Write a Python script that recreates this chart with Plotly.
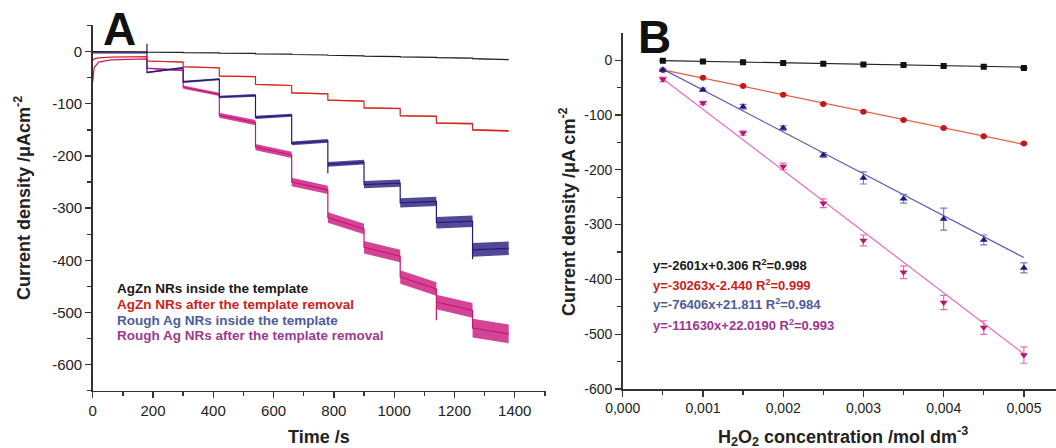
import plotly.graph_objects as go

# ---------------- Panel A : chronoamperometry ----------------
INIT_T = [0, 5, 20, 60, 180]
BLACK_INIT = [0, 0, -0.2, -0.4, -0.7]
RED_INIT = [-17, -14, -12, -10.5, -9.6]
BLUE_INIT = [-2.5, -2.5, -2.5, -2.5, -2.5]
MAG_INIT = [-58, -30, -20, -16, -14]

STEP_T = [180, 300, 420, 540, 660, 780, 900, 1020, 1140, 1260, 1380]

BLACK_START = [-1, -2, -3, -4.5, -5.5, -7, -8.5, -10, -11.5, -13.5]
BLACK_END = [-1.5, -2.5, -3.5, -5, -6.5, -8, -9.5, -11, -12.5, -15.5]
BLACK_NOISE = [0, 0, 0, 0, 0, 0, 0, 0, 0.5, 0.7]
BLACK_SPIKE = [None, None, None, None, None, None, None, None, None, None]

RED_START = [-18, -29, -47, -63, -79, -93, -108, -123, -137, -150]
RED_END = [-20, -31, -48, -65, -81, -95, -109, -124, -138, -152]
RED_NOISE = [0.8, 0.8, 1, 1, 1.2, 1.2, 1.3, 1.3, 1.5, 1.5]
RED_SPIKE = [None, None, None, None, None, None, None, None, None, None]

BLUE_START = [-40, -58, -87, -126, -176, -216, -255, -290, -328, -380]
BLUE_END = [-31, -53, -84, -122, -171, -212, -252, -287, -325, -377]
BLUE_NOISE = [1.5, 2, 2.5, 3, 3.5, 4.5, 7, 9, 11, 13]
BLUE_SPIKE = [15, None, None, None, None, -233, None, None, None, -398]

MAG_START = [-32, -68, -122, -183, -250, -318, -375, -432, -480, -530]
MAG_END = [-36, -82, -136, -198, -265, -340, -392, -455, -496, -541]
MAG_NOISE = [1.5, 3, 5, 6, 8, 10, 12, 13, 14, 18]
MAG_SPIKE = [None, None, None, None, None, None, None, None, -515, None]

A_X_TICKS = [0, 200, 400, 600, 800, 1000, 1200, 1400]
A_Y_TICKS = [0, -100, -200, -300, -400, -500, -600]
A_Y_TEXT = ["0", "-100", "-200", "-300", "-400", "-500", "-600"]

LEGEND_A = ["AgZn NRs inside the template",
            "AgZn NRs after the template removal",
            "Rough Ag NRs inside the template",
            "Rough Ag NRs after the template removal"]

# ---------------- Panel B : calibration ----------------
CONC = [0.0005, 0.001, 0.0015, 0.002, 0.0025, 0.003, 0.0035, 0.004, 0.0045, 0.005]
B_BLACK = [-1, -2.5, -3.6, -5, -6.5, -8, -9, -10.5, -12, -14.5]
B_BLACK_ERR = [0.5, 0.5, 0.5, 0.5, 0.5, 0.5, 0.5, 0.5, 0.5, 1]
B_RED = [-18, -32, -47, -63, -80, -94, -109, -124, -139, -152]
B_RED_ERR = [1, 1, 1, 1, 1, 1, 1, 1, 1, 1.5]
B_BLUE = [-18, -54, -85, -124, -173, -215, -253, -290, -328, -379]
B_BLUE_ERR = [2, 3, 4.5, 4, 4.5, 11, 8, 20, 9, 9]
B_MAG = [-35, -78, -133, -194, -261, -329, -387, -442, -488, -538]
B_MAG_ERR = [4, 3, 4, 6, 8, 10, 11.5, 13, 12.5, 15]

FIT_SLOPE = [-2601, -30263, -76406, -111630]
FIT_INTERCEPT = [0.306, -2.440, 21.811, 22.0190]
FIT_X = [0.0005, 0.005]
EQUATIONS = ["y=-2601x+0.306 R<sup>2</sup>=0.998",
             "y=-30263x-2.440 R<sup>2</sup>=0.999",
             "y=-76406x+21.811 R<sup>2</sup>=0.984",
             "y=-111630x+22.0190 R<sup>2</sup>=0.993"]

B_X_TICKS = [0, 0.001, 0.002, 0.003, 0.004, 0.005]
B_X_TEXT = ["0,000", "0,001", "0,002", "0,003", "0,004", "0,005"]
B_Y_TICKS = [0, -100, -200, -300, -400, -500, -600]
B_Y_TEXT = ["0", "-100", "-200", "-300", "-400", "-500", "-600"]

# ---------------- styling ----------------
FONT = "Liberation Sans, Arial, Helvetica, sans-serif"
W, H = 1056, 448
TRACE_COL = ["#1e1e1e", "#d0281e", "#261b7c", "#c8157a"]
BAND_COL = ["rgba(30,30,30,0.75)", "rgba(208,40,30,0.75)", "rgba(38,27,124,0.8)", "rgba(200,21,122,0.8)"]
LEG_COL = ["#1a1a1a", "#cc1f1f", "#4f5b9e", "#9c3a8e"]
EQ_COL = ["#1a1a1a", "#c81e1e", "#4f5b9a", "#9a3591"]
B_MARK_COL = ["#111111", "#c4161c", "#1f1a7a", "#c0106e"]
B_LINE_COL = ["#222222", "#e2603c", "#5b5fb5", "#e46cc0"]
B_ERR_COL = ["#444444", "#d05050", "#7a78c0", "#e070b0"]
B_SYMBOL = ["square", "circle", "triangle-up", "triangle-down"]


def px_x(x):
    return x / W


def px_y(y):
    return 1 - y / H


def step_path(init_vals, starts, ends, spikes):
    xs = list(INIT_T)
    ys = list(init_vals)
    for i in range(len(starts)):
        t0, t1 = STEP_T[i], STEP_T[i + 1]
        if spikes[i] is not None:
            xs.append(t0)
            ys.append(spikes[i])
        xs += [t0, t1]
        ys += [starts[i], ends[i]]
    return xs, ys


def noise_band(starts, ends, noise):
    xs, ys = [], []
    for i in range(len(starts)):
        a = noise[i]
        if a <= 0:
            continue
        t0, t1 = STEP_T[i], STEP_T[i + 1]
        xs += [t0, t1, t1, t0, t0, None]
        ys += [starts[i] - a, ends[i] - a, ends[i] + a, starts[i] + a, starts[i] - a, None]
    return xs, ys


fig = go.Figure()

series_a = [
    (BLACK_INIT, BLACK_START, BLACK_END, BLACK_NOISE, BLACK_SPIKE),
    (RED_INIT, RED_START, RED_END, RED_NOISE, RED_SPIKE),
    (BLUE_INIT, BLUE_START, BLUE_END, BLUE_NOISE, BLUE_SPIKE),
    (MAG_INIT, MAG_START, MAG_END, MAG_NOISE, MAG_SPIKE),
]
for idx in [3, 2, 1, 0]:
    init_v, st, en, nz, sp = series_a[idx]
    bx, by = noise_band(st, en, nz)
    if bx:
        fig.add_trace(go.Scatter(x=bx, y=by, mode="lines", fill="toself",
                                 fillcolor=BAND_COL[idx], line=dict(width=0),
                                 hoverinfo="skip", showlegend=False,
                                 xaxis="x", yaxis="y"))
    lx, ly = step_path(init_v, st, en, sp)
    fig.add_trace(go.Scatter(x=lx, y=ly, mode="lines",
                             line=dict(color=TRACE_COL[idx], width=1.2),
                             showlegend=False, name=LEGEND_A[idx],
                             xaxis="x", yaxis="y"))

# Panel B
b_series = [(B_BLACK, B_BLACK_ERR), (B_RED, B_RED_ERR), (B_BLUE, B_BLUE_ERR), (B_MAG, B_MAG_ERR)]
for i in range(4):
    fy = [FIT_SLOPE[i] * x + FIT_INTERCEPT[i] for x in FIT_X]
    fig.add_trace(go.Scatter(x=FIT_X, y=fy, mode="lines",
                             line=dict(color=B_LINE_COL[i], width=1.2),
                             showlegend=False, xaxis="x2", yaxis="y2"))
for i in range(4):
    vals, errs = b_series[i]
    fig.add_trace(go.Scatter(x=CONC, y=vals, mode="markers",
                             marker=dict(symbol=B_SYMBOL[i], size=6 if i < 2 else 7,
                                         color=B_MARK_COL[i], line=dict(width=0)),
                             error_y=dict(type="data", array=errs, visible=True,
                                          color=B_ERR_COL[i], thickness=1.2, width=3.5),
                             showlegend=False, xaxis="x2", yaxis="y2"))

axis_common = dict(showline=True, linecolor="#333333", linewidth=1.5, showgrid=False,
                   zeroline=False, ticks="outside", ticklen=6, tickwidth=1.3,
                   tickcolor="#333333", fixedrange=True, automargin=False)

fig.update_layout(
    width=W, height=H,
    margin=dict(l=0, r=0, t=0, b=0, autoexpand=False),
    paper_bgcolor="white", plot_bgcolor="white",
    font=dict(family=FONT, color="#222222"),
    showlegend=False,
    xaxis=dict(domain=[px_x(92.7), px_x(545.5)], range=[0, 1502], anchor="y",
               tickmode="array", tickvals=A_X_TICKS,
               tickfont=dict(size=15, family=FONT, color="#222222"),
               minor=dict(ticks="outside", ticklen=4, tickwidth=1.3, tickcolor="#333333",
                          tickmode="linear", tick0=0, dtick=100, showgrid=False),
               **axis_common),
    yaxis=dict(domain=[px_y(390.7), px_y(25)], range=[-650, 51], anchor="x",
               tickmode="array", tickvals=A_Y_TICKS, ticktext=A_Y_TEXT,
               tickfont=dict(size=15, family=FONT, color="#222222"),
               minor=dict(ticks="outside", ticklen=4, tickwidth=1.3, tickcolor="#333333",
                          tickmode="linear", tick0=0, dtick=50, showgrid=False),
               **axis_common),
    xaxis2=dict(domain=[px_x(622.7), 1.0], range=[0, 0.0054], anchor="y2",
                tickmode="array", tickvals=B_X_TICKS, ticktext=B_X_TEXT,
                tickfont=dict(size=14, family=FONT, color="#222222"),
                minor=dict(ticks="outside", ticklen=4, tickwidth=1.3, tickcolor="#333333",
                           tickmode="linear", tick0=0, dtick=0.0005, showgrid=False),
                **axis_common),
    yaxis2=dict(domain=[px_y(389), px_y(33.3)], range=[-600, 49], anchor="x2",
                tickmode="array", tickvals=B_Y_TICKS, ticktext=B_Y_TEXT,
                tickfont=dict(size=14, family=FONT, color="#222222"),
                minor=dict(ticks="outside", ticklen=4, tickwidth=1.3, tickcolor="#333333",
                           tickmode="linear", tick0=0, dtick=50, showgrid=False),
                **axis_common),
)

ann = []
# panel labels
ann.append(dict(text="<b>A</b>", x=px_x(101), y=px_y(29), xanchor="left", yanchor="middle",
                font=dict(size=46, family=FONT, color="#111111")))
ann.append(dict(text="<b>B</b>", x=px_x(636), y=px_y(37), xanchor="left", yanchor="middle",
                font=dict(size=46, family=FONT, color="#111111")))
# axis titles
ann.append(dict(text="<b>Current density /μAcm<sup>-2</sup></b>", x=px_x(22), y=px_y(198),
                textangle=-90, xanchor="center", yanchor="middle",
                font=dict(size=18, family=FONT, color="#222222")))
ann.append(dict(text="<b>Time /s</b>", x=px_x(319), y=px_y(437), xanchor="center", yanchor="middle",
                font=dict(size=18, family=FONT, color="#222222")))
ann.append(dict(text="<b>Current density /μA cm<sup>-2</sup></b>", x=px_x(567), y=px_y(212),
                textangle=-90, xanchor="center", yanchor="middle",
                font=dict(size=18, family=FONT, color="#222222")))
ann.append(dict(text="<b>H<sub>2</sub>O<sub>2</sub> concentration /mol dm<sup>-3</sup></b>",
                x=px_x(843), y=px_y(436), xanchor="center", yanchor="middle",
                font=dict(size=18, family=FONT, color="#222222")))
# legend of panel A
leg_y = [288.5, 304, 320, 335]
for i in range(4):
    ann.append(dict(text="<b>" + LEGEND_A[i] + "</b>", x=px_x(115), y=px_y(leg_y[i]),
                    xanchor="left", yanchor="middle",
                    font=dict(size=13.5, family=FONT, color=LEG_COL[i])))
# equations of panel B
eq_y = [265, 284.5, 304, 325]
for i in range(4):
    ann.append(dict(text="<b>" + EQUATIONS[i] + "</b>", x=px_x(651), y=px_y(eq_y[i]),
                    xanchor="left", yanchor="middle",
                    font=dict(size=13, family=FONT, color=EQ_COL[i])))
for a in ann:
    a.update(xref="paper", yref="paper", showarrow=False)
fig.update_layout(annotations=ann)

fig.write_html("out.html",
               config={"displayModeBar": False, "staticPlot": True},
               post_script="document.body.style.margin='0';document.body.style.padding='0';"
                           "document.body.style.overflow='hidden';")
